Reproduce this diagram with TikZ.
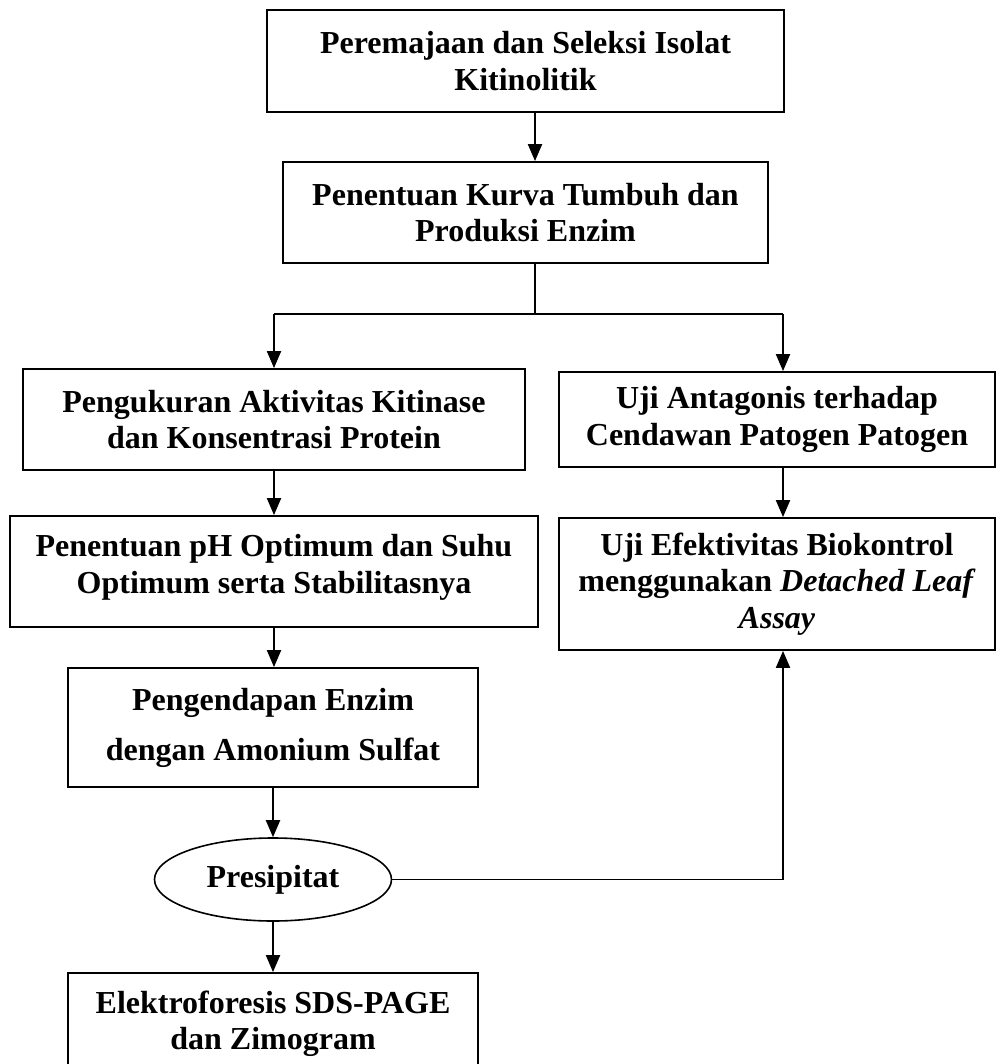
\documentclass[tikz,border=0pt]{standalone}
\usepackage{fontspec}
\setmainfont{Liberation Serif}
\usetikzlibrary{shapes.geometric,arrows.meta,calc}
\tikzset{
  stepbox/.style={draw, line width=1.8pt, align=center, inner sep=0pt,
    font=\fontsize{32}{36.5}\selectfont\bfseries},
  ovalbox/.style={ellipse, draw, line width=1.6pt, inner sep=0pt,
    font=\fontsize{32}{36.5}\selectfont\bfseries},
  arr/.style={line width=2pt, -{Triangle[width=14pt,length=17pt]}},
  conn/.style={line width=1.5pt},
  hconn/.style={line width=2pt},
}
\begin{document}
\begin{tikzpicture}[x=1pt,y=-1pt]
\clip (0,0) rectangle (999,1064);
\fill[white] (0,0) rectangle (999,1064);

\node[stepbox, minimum width=517pt, minimum height=102pt] (b1) at (525.5,61)
  {Peremajaan dan Seleksi Isolat\\Kitinolitik};
\node[stepbox, minimum width=485pt, minimum height=101pt] (b2) at (525.5,212.5)
  {Penentuan Kurva Tumbuh dan\\Produksi Enzim};
\node[stepbox, minimum width=502pt, minimum height=101pt] (b3) at (274,419.5)
  {Pengukuran Aktivitas Kitinase\\dan Konsentrasi Protein};
\node[stepbox, minimum width=436pt, minimum height=95pt] (b4) at (777,419.5)
  {Uji Antagonis terhadap\\Cendawan Patogen Patogen};
\node[stepbox, minimum width=528pt, minimum height=111pt] (b5) at (274,571.5)
  {Penentuan pH Optimum dan Suhu\\Optimum serta Stabilitasnya\\[-32pt]\strut};
\node[stepbox, minimum width=436pt, minimum height=132pt] (b6) at (777,584)
  {Uji Efektivitas Biokontrol\\menggunakan \textit{Detached Leaf}\\\textit{Assay}};
\node[stepbox, minimum width=410pt, minimum height=119pt,
  font=\fontsize{32}{50}\selectfont\bfseries] (b7) at (273,727.5)
  {Pengendapan Enzim\\dengan Amonium Sulfat};
\node[ovalbox, minimum width=237pt, minimum height=83pt] (pre) at (273,879.5)
  {Presipitat};
\node[stepbox, minimum width=410pt, minimum height=102pt] (b8) at (273,1024)
  {Elektroforesis SDS-PAGE\\dan Zimogram};

\coordinate (cm) at (535,314);
\coordinate (cl) at (274,314);
\coordinate (cr) at (783,314);
\coordinate (fb) at (783,879.5);

\draw[arr] (b1.south -| cm) -- (b2.north -| cm);
\draw[conn] (b2.south -| cm) -- (cm);
\draw[hconn] (cl) -- (cr);
\draw[arr] (cl) -- (b3.north);
\draw[arr] (cr) -- (b4.north -| cr);
\draw[arr] (b3.south) -- (b5.north);
\draw[arr] (b4.south -| cr) -- (b6.north -| cr);
\draw[arr] (b5.south) -- (b5.south |- b7.north);
\draw[arr] (b7.south) -- (pre.north);
\draw[arr] (pre.south) -- (b8.north);
\draw[conn] (pre.east) -- (fb);
\draw[arr] (fb) -- (b6.south -| fb);
\end{tikzpicture}
\end{document}
